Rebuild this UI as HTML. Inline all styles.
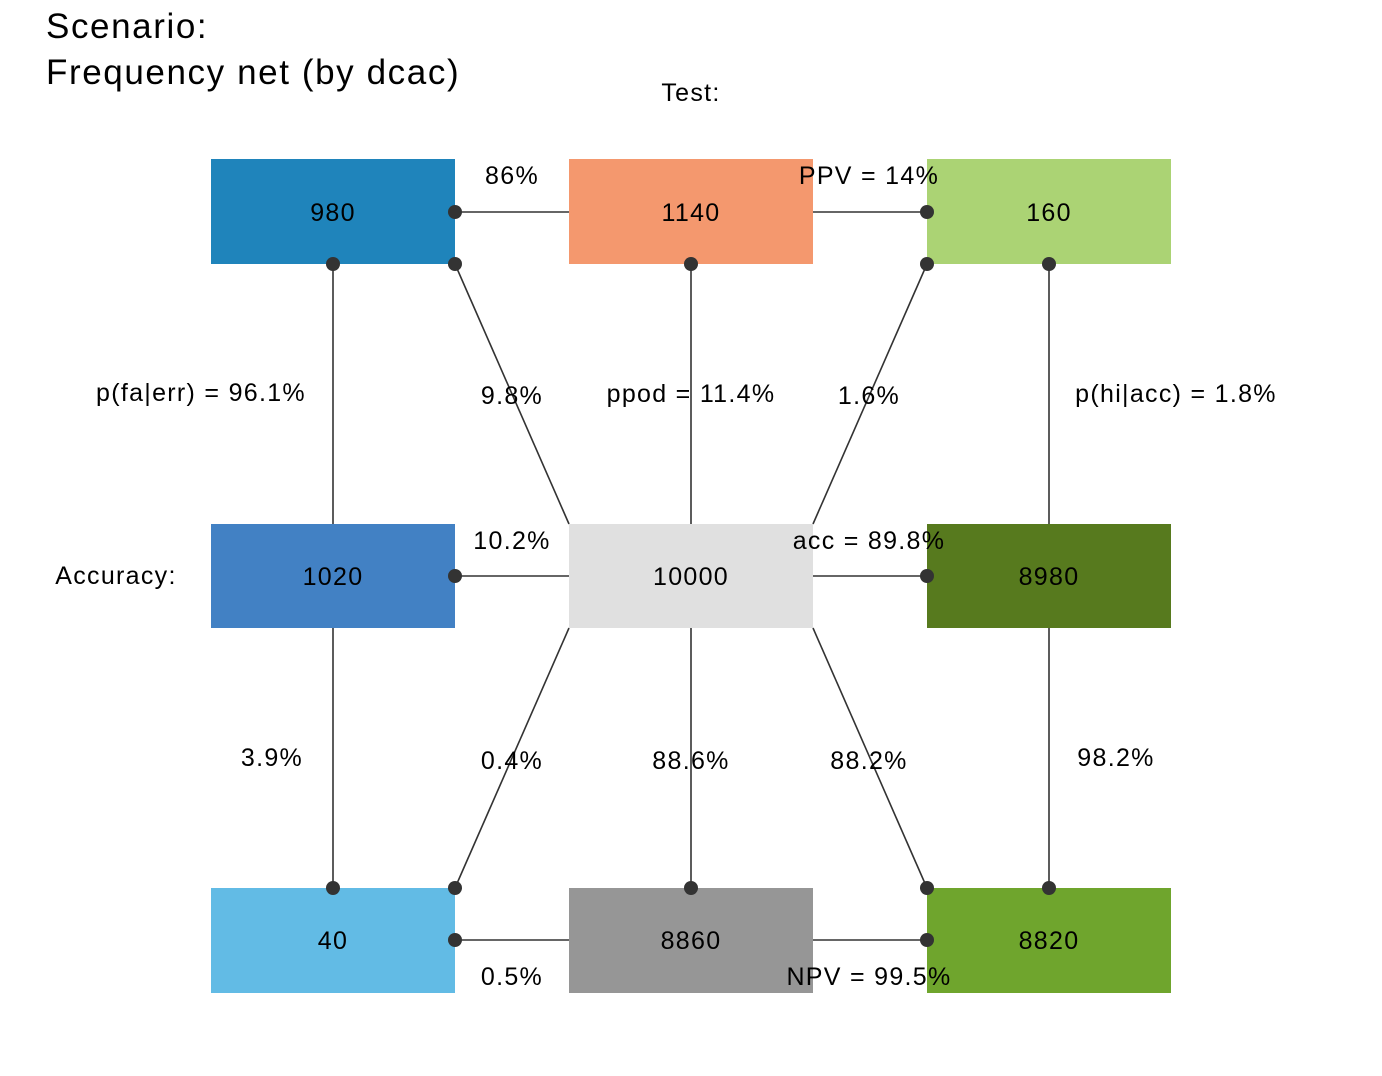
<!DOCTYPE html>
<html><head><meta charset="utf-8"><style>
html,body{margin:0;padding:0;background:#fff;}
svg{display:block;}
text{font-family:"Liberation Sans",Arial,sans-serif;fill:#000;}
</style></head><body>
<svg width="1382" height="1076" viewBox="0 0 1382 1076" xmlns="http://www.w3.org/2000/svg">
<g letter-spacing="1.6">
<text x="46" y="38" font-size="35">Scenario:</text>
<text x="46" y="84" font-size="35">Frequency net (by dcac)</text>
</g>
<g font-size="25" letter-spacing="1.3" text-anchor="middle">
<text x="691" y="101">Test:</text>
<text x="116" y="584">Accuracy:</text>
</g>

<g>
<rect x="211" y="159" width="244" height="105" fill="#1F84BB"/>
<rect x="569" y="159" width="244" height="105" fill="#F4986E"/>
<rect x="927" y="159" width="244" height="105" fill="#ABD374"/>
<rect x="211" y="524" width="244" height="104" fill="#4281C4"/>
<rect x="569" y="524" width="244" height="104" fill="#E0E0E0"/>
<rect x="927" y="524" width="244" height="104" fill="#577A1E"/>
<rect x="211" y="888" width="244" height="105" fill="#62BBE5"/>
<rect x="569" y="888" width="244" height="105" fill="#969696"/>
<rect x="927" y="888" width="244" height="105" fill="#6FA52D"/>
</g>

<g stroke="#333" stroke-width="1.6" fill="none">
<line x1="455" y1="212" x2="569" y2="212"/>
<line x1="813" y1="212" x2="927" y2="212"/>
<line x1="333" y1="264" x2="333" y2="524"/>
<line x1="691" y1="264" x2="691" y2="524"/>
<line x1="1049" y1="264" x2="1049" y2="524"/>
<line x1="455" y1="264" x2="569" y2="524"/>
<line x1="927" y1="264" x2="813" y2="524"/>
<line x1="455" y1="576" x2="569" y2="576"/>
<line x1="813" y1="576" x2="927" y2="576"/>
<line x1="333" y1="628" x2="333" y2="888"/>
<line x1="691" y1="628" x2="691" y2="888"/>
<line x1="1049" y1="628" x2="1049" y2="888"/>
<line x1="569" y1="628" x2="455" y2="888"/>
<line x1="813" y1="628" x2="927" y2="888"/>
<line x1="455" y1="940" x2="569" y2="940"/>
<line x1="813" y1="940" x2="927" y2="940"/>
</g>
<g fill="#333">
<circle cx="455" cy="212" r="7"/><circle cx="927" cy="212" r="7"/>
<circle cx="333" cy="264" r="7"/><circle cx="455" cy="264" r="7"/><circle cx="691" cy="264" r="7"/><circle cx="927" cy="264" r="7"/><circle cx="1049" cy="264" r="7"/>
<circle cx="455" cy="576" r="7"/><circle cx="927" cy="576" r="7"/>
<circle cx="333" cy="888" r="7"/><circle cx="455" cy="888" r="7"/><circle cx="691" cy="888" r="7"/><circle cx="927" cy="888" r="7"/><circle cx="1049" cy="888" r="7"/>
<circle cx="455" cy="940" r="7"/><circle cx="927" cy="940" r="7"/>
</g>

<g font-size="25" letter-spacing="1.3" text-anchor="middle">
<text x="333" y="221">980</text>
<text x="691" y="221">1140</text>
<text x="1049" y="221">160</text>
<text x="333" y="585">1020</text>
<text x="691" y="585">10000</text>
<text x="1049" y="585">8980</text>
<text x="333" y="949">40</text>
<text x="691" y="949">8860</text>
<text x="1049" y="949">8820</text>

<text x="512" y="184">86%</text>
<text x="869" y="184">PPV = 14%</text>
<text x="201" y="401">p(fa|err) = 96.1%</text>
<text x="512" y="404">9.8%</text>
<text x="691" y="402">ppod = 11.4%</text>
<text x="869" y="404">1.6%</text>
<text x="1176" y="402">p(hi|acc) = 1.8%</text>
<text x="512" y="549">10.2%</text>
<text x="869" y="549">acc = 89.8%</text>
<text x="272" y="766">3.9%</text>
<text x="512" y="769">0.4%</text>
<text x="691" y="769">88.6%</text>
<text x="869" y="769">88.2%</text>
<text x="1116" y="766">98.2%</text>
<text x="512" y="985">0.5%</text>
<text x="869" y="985">NPV = 99.5%</text>
</g>
</svg>
</body></html>
